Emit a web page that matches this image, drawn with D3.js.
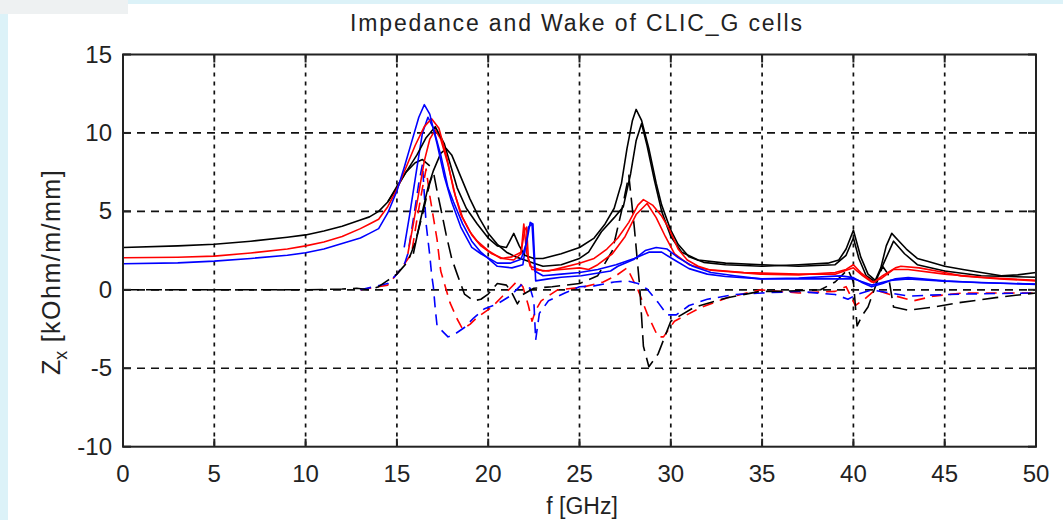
<!DOCTYPE html>
<html><head><meta charset="utf-8">
<script src="https://cdn.jsdelivr.net/npm/d3@7"></script>
<style>body{margin:0;background:#fff;}svg{display:block;}</style>
</head><body>
<svg id="chart" width="1063" height="520"></svg>
<script>
const title = "Impedance and Wake of CLIC_G cells";
const xTicks = [0,5,10,15,20,25,30,35,40,45,50];
const yTicks = [-10,-5,0,5,10,15];

// Solid curves (real part)
const blackSolidA = [[0,2.7],[3,2.8],[5,2.9],[7,3.1],[9,3.35],[10,3.5],[11,3.75],[12,4.05],[13,4.45],[13.5,4.65],[14,5.0],[14.5,5.6],[15,6.5],[15.5,7.5],[16.1,8.6],[16.6,9.7],[17.1,10.4],[17.6,9.3],[18.0,7.7],[18.3,6.5],[18.8,5.2],[19.4,4.2],[20,3.3],[20.5,2.8],[21.0,2.7],[21.4,3.6],[21.7,2.8],[22.0,2.2],[22.5,2.0],[23,2.0],[24,2.3],[25,2.7],[25.8,3.3],[26.4,4.2],[26.9,5.2],[27.3,6.8],[27.6,9.0],[27.9,10.8],[28.1,11.5],[28.4,10.8],[28.8,9.0],[29.2,6.8],[29.5,5.4],[30.0,3.8],[30.4,2.9],[31,2.1],[31.8,1.75],[33,1.6],[35,1.5],[37,1.6],[38.6,1.7],[39.2,1.9],[39.6,2.6],[40.0,3.8],[40.4,2.1],[40.8,1.0],[41.2,0.6],[41.5,1.4],[41.8,2.8],[42.1,3.6],[42.5,3.1],[42.9,2.6],[43.5,2.0],[44.1,1.8],[45,1.5],[46,1.3],[47,1.1],[48.1,0.9],[49,0.95],[50,1.1]];
const blackSolidB = [[15.9,2.3],[16.3,4.5],[16.7,6.5],[17.0,7.6],[17.4,8.7],[17.7,9.0],[18.0,8.6],[18.5,7.2],[19.0,5.8],[19.5,4.6],[20.0,3.6],[20.5,2.9],[21,2.4],[21.5,2.1],[22,1.9],[22.5,1.7],[23,1.5],[24,1.6],[25,2.0],[25.5,2.4],[26.2,3.7],[26.9,4.6],[27.4,5.3],[27.8,7.4],[28.1,9.5],[28.4,10.6],[28.7,9.2],[29.1,7.0],[29.5,5.0],[30,3.4],[30.6,2.4],[31.5,1.9],[33,1.7],[35,1.6],[37,1.5],[39,1.6],[39.6,2.2],[40.0,3.3],[40.3,2.0],[40.7,0.9],[41.2,0.5],[41.7,1.8],[42.2,3.1],[42.8,2.3],[43.5,1.6],[45,1.2],[47,0.9],[50,0.8]];
const blackSolidC = [[14.5,5.6],[15.0,6.6],[15.5,7.5],[16.0,8.1],[16.4,8.3],[16.8,7.9]];
const redSolidA = [[0,2.04],[3,2.08],[5,2.15],[7,2.35],[9,2.6],[10,2.8],[11,3.05],[12,3.4],[13,3.9],[13.5,4.2],[14,4.5],[14.5,5.3],[15,6.4],[15.5,7.8],[16,9.2],[16.5,10.4],[16.9,10.9],[17.3,10.3],[17.7,8.6],[18.1,6.4],[18.5,4.8],[19,3.7],[19.4,3.1],[20,2.5],[20.7,2.0],[21.3,2.1],[21.8,2.4],[22.0,3.8],[22.1,4.0],[22.2,2.0],[22.4,1.3],[23.3,1.2],[24,1.4],[25,1.7],[25.8,2.0],[26.5,2.6],[27.1,3.3],[27.7,4.3],[28.2,5.4],[28.5,5.75],[29.0,5.4],[29.5,4.7],[29.9,3.9],[30.4,2.6],[30.9,1.9],[31.5,1.5],[32.2,1.25],[34.9,1.0],[37,0.95],[39,1.1],[39.6,1.3],[40.0,1.6],[40.4,1.1],[41.1,0.46],[41.6,0.9],[42.3,1.4],[42.6,1.5],[43.6,1.4],[45,1.1],[45.9,0.89],[48,0.7],[50,0.57]];
const redSolidB = [[15.6,2.3],[15.9,4.2],[16.2,6.2],[16.5,8.2],[16.8,9.6],[17.1,10.2],[17.4,9.6],[17.8,8.0],[18.2,6.0],[18.6,4.6],[19.1,3.5],[19.6,2.8],[20.2,2.3],[20.8,2.0],[21.4,1.9],[21.8,2.3],[21.95,4.2],[22.1,2.4],[22.3,1.5],[23,1.2],[24,1.3],[25,1.4],[25.5,1.3],[26,1.6],[26.8,2.3],[27.5,3.4],[28.1,4.8],[28.7,5.5],[29.2,4.6],[29.7,3.4],[30.2,2.3],[31,1.6],[32,1.3],[34,1.1],[37,1.0],[39,1.0],[40,1.4],[40.5,0.9],[41,0.5],[41.5,0.7],[42.2,1.3],[43,1.3],[45,1.0],[47,0.8],[50,0.6]];
const blueSolidA = [[0,1.66],[3,1.72],[5,1.83],[7,2.0],[9,2.2],[10,2.36],[11,2.6],[12,2.95],[13,3.3],[13.5,3.6],[14,3.9],[14.5,4.9],[15,6.3],[15.4,7.8],[15.8,9.4],[16.2,11.0],[16.5,11.8],[16.8,11.2],[17.2,9.3],[17.6,7.2],[18.0,5.6],[18.5,4.0],[19.1,2.7],[19.6,2.3],[20.5,1.7],[21.2,1.7],[21.8,1.95],[22.1,3.0],[22.3,4.3],[22.45,4.2],[22.6,0.57],[23.3,0.7],[24,0.8],[25.1,0.9],[26.7,1.2],[27.1,1.5],[28.0,1.95],[28.6,2.5],[29.2,2.7],[29.8,2.6],[30.4,2.05],[31.2,1.5],[32.2,1.1],[33.5,0.9],[34.9,0.7],[37,0.75],[39.3,0.89],[40,0.78],[40.5,0.45],[41,0.19],[41.6,0.4],[42.3,0.7],[43,0.78],[45,0.57],[47,0.45],[50,0.36]];
const blueSolidB = [[15.4,2.7],[15.7,4.8],[16.1,7.8],[16.4,10.0],[16.7,11.0],[17.0,10.3],[17.4,8.6],[17.8,6.5],[18.1,5.6],[18.6,4.2],[19.1,3.1],[19.6,2.4],[20.5,1.5],[21.3,1.4],[21.9,1.6],[22.2,4.0],[22.4,4.2],[22.55,1.2],[23,0.9],[24,1.0],[25,1.1],[26,1.3],[27,1.6],[28,2.0],[28.8,2.4],[29.5,2.4],[30.2,1.9],[31,1.35],[32,1.0],[33,0.85],[35,0.7],[38,0.7],[40,0.7],[41,0.3],[42,0.6],[43,0.7],[45,0.55],[50,0.35]];

// Dashed curves (imaginary part)
const blackDashed = [[0,0],[5,0],[10,0],[12,0.05],[12.8,0.1],[13.5,0.0],[14.0,0.2],[14.5,0.6],[15.0,1.0],[15.3,1.4],[15.6,1.8],[16.0,3.0],[16.4,4.8],[16.8,6.8],[17.0,7.5],[17.2,6.3],[17.4,5.2],[17.7,3.5],[18.0,2.0],[18.3,1.0],[18.7,-0.27],[19.2,-0.7],[19.6,-0.6],[20.0,-0.27],[20.5,0.4],[21.0,0.3],[21.3,-0.2],[21.6,-0.9],[21.9,-0.3],[22.5,0.1],[23.5,0.2],[25,0.4],[26,0.9],[26.8,2.5],[27.3,5.0],[27.7,7.3],[28.0,4.0],[28.3,0.15],[28.5,-3.6],[28.8,-4.9],[29.3,-4.1],[30.0,-2.0],[31.3,-1.1],[33.1,-0.5],[34.9,-0.1],[36,-0.1],[38.2,0.0],[39.0,0.5],[39.7,1.3],[40.0,0.5],[40.2,-2.3],[40.5,-1.6],[40.8,-1.1],[41.2,0.2],[41.6,1.5],[41.9,1.0],[42.2,-1.1],[43,-1.3],[44.4,-1.1],[45.9,-0.8],[47.8,-0.5],[50,-0.2]];
const redDashed = [[13,0],[14.5,0.3],[15.2,1.3],[15.8,2.3],[16.1,4.5],[16.4,6.5],[16.6,7.7],[16.8,6.0],[17.0,4.6],[17.2,3.2],[17.4,1.2],[17.7,0],[17.9,-0.8],[18.3,-1.86],[18.6,-2.5],[19.0,-2.2],[19.4,-1.75],[20.2,-1.1],[20.9,-0.27],[21.6,0.57],[21.9,0.2],[22.2,-1.0],[22.4,-2.0],[22.6,-1.3],[22.9,-0.7],[23.8,0],[25.1,0.15],[26.3,0.5],[27.0,0.9],[27.6,1.4],[28.2,0],[28.7,-1.5],[29.3,-3.0],[29.6,-3.0],[30.2,-2.0],[31.7,-1.1],[33.1,-0.5],[34.9,0],[37,-0.2],[39,-0.1],[39.6,0.2],[40.1,-1.0],[40.6,-0.6],[41.2,0.0],[42,-0.3],[43.3,-0.7],[44.4,-0.4],[46,-0.2],[48,-0.2],[50,-0.2]];
const blueDashed = [[13,0],[14.5,0.4],[15.0,1.0],[15.4,1.6],[15.6,2.3],[15.9,4.5],[16.2,6.8],[16.4,8.0],[16.6,4.2],[16.8,2.2],[16.9,1.0],[17.0,0.15],[17.1,-1.2],[17.2,-2.3],[17.8,-3.0],[18.2,-2.8],[18.7,-2.4],[19.2,-1.8],[19.8,-1.2],[20.5,-0.9],[21.2,-0.4],[21.8,0.3],[22.3,0.1],[22.5,-0.7],[22.6,-3.2],[22.8,-1.5],[23.3,-0.7],[24.2,-0.2],[25,0.2],[25.8,0.25],[26.9,0.5],[27.6,0.57],[28.2,0.4],[28.7,0.05],[29.3,-0.8],[29.8,-1.6],[30.3,-1.6],[31,-1.0],[32,-0.6],[33.5,-0.3],[35,-0.2],[37,-0.1],[39,-0.3],[39.7,-0.6],[40.2,-0.3],[41,0.0],[42,-0.2],[43,-0.4],[45,-0.3],[47,-0.25],[50,-0.2]];

const svg = d3.select("#chart");
const L = 123, R = 1036, T = 54.5, B = 446.7;
const x = d3.scaleLinear().domain([0,50]).range([L,R]);
const y = d3.scaleLinear().domain([-10,15]).range([B,T]);
const font = "'Liberation Sans', Arial, sans-serif";

// frame decorations
svg.append("rect").attr("x",0).attr("y",0).attr("width",1063).attr("height",520).attr("fill","#ffffff");
svg.append("rect").attr("x",128).attr("y",0).attr("width",935).attr("height",4).attr("fill","#dcf2f8");
svg.append("rect").attr("x",0).attr("y",14).attr("width",8).attr("height",506).attr("fill","#dcf2f8");
svg.append("rect").attr("x",0).attr("y",0).attr("width",128).attr("height",14).attr("fill","#eef1f2");

// grid
const g = svg.append("g");
g.selectAll(".vg").data(xTicks.slice(1,-1)).join("line")
  .attr("x1",d=>x(d)).attr("x2",d=>x(d)).attr("y1",T).attr("y2",B)
  .attr("stroke","#111").attr("stroke-width",1.7).attr("stroke-dasharray","4,5");
g.selectAll(".hg").data(yTicks.slice(1,-1)).join("line")
  .attr("x1",L).attr("x2",R).attr("y1",d=>y(d)).attr("y2",d=>y(d))
  .attr("stroke","#111").attr("stroke-width",1.7).attr("stroke-dasharray","8,6");

// curves
svg.append("clipPath").attr("id","clip").append("rect").attr("x",L).attr("y",T).attr("width",R-L).attr("height",B-T);
const line = d3.line().x(d=>x(d[0])).y(d=>y(d[1]));
const cg = svg.append("g").attr("clip-path","url(#clip)");
const series = [
  {d:redDashed,c:"#ff0000",dash:"11,7"},
  {d:blueDashed,c:"#0000ff",dash:"11,7"},
  {d:blackDashed,c:"#000000",dash:"16,7"},
  {d:blackSolidB,c:"#000000"},
  {d:blackSolidC,c:"#000000"},
  {d:redSolidB,c:"#ff0000"},
  {d:blueSolidB,c:"#0000ff"},
  {d:blackSolidA,c:"#000000"},
  {d:redSolidA,c:"#ff0000"},
  {d:blueSolidA,c:"#0000ff"}
];
cg.selectAll("path").data(series).join("path")
  .attr("d",s=>line(s.d)).attr("fill","none").attr("stroke",s=>s.c)
  .attr("stroke-width",1.6).attr("stroke-dasharray",s=>s.dash||null)
  .attr("stroke-linejoin","round");

// axes box and ticks
const ax = svg.append("g");
ax.append("rect").attr("x",L).attr("y",T).attr("width",R-L).attr("height",B-T)
  .attr("fill","none").attr("stroke","#222").attr("stroke-width",2);
const tl = 8;
ax.selectAll(".xtb").data(xTicks).join("line").attr("x1",d=>x(d)).attr("x2",d=>x(d)).attr("y1",B).attr("y2",B-tl).attr("stroke","#222").attr("stroke-width",2);
ax.selectAll(".xtt").data(xTicks).join("line").attr("x1",d=>x(d)).attr("x2",d=>x(d)).attr("y1",T).attr("y2",T+tl).attr("stroke","#222").attr("stroke-width",2);
ax.selectAll(".ytl").data(yTicks).join("line").attr("y1",d=>y(d)).attr("y2",d=>y(d)).attr("x1",L).attr("x2",L+tl).attr("stroke","#222").attr("stroke-width",2);
ax.selectAll(".ytr").data(yTicks).join("line").attr("y1",d=>y(d)).attr("y2",d=>y(d)).attr("x1",R).attr("x2",R-tl).attr("stroke","#222").attr("stroke-width",2);

// tick labels
ax.selectAll(".xl").data(xTicks).join("text").attr("x",d=>x(d)).attr("y",482)
  .attr("text-anchor","middle").attr("font-family",font).attr("font-size",24).attr("fill","#222").text(d=>d);
ax.selectAll(".yl").data(yTicks).join("text").attr("x",112).attr("y",d=>y(d)+8)
  .attr("text-anchor","end").attr("font-family",font).attr("font-size",24).attr("fill","#222").text(d=>d);

// title and labels
svg.append("text").attr("x",576).attr("y",31).attr("text-anchor","middle")
  .attr("font-family",font).attr("font-size",23).attr("fill","#222")
  .attr("textLength",452).attr("lengthAdjust","spacing").text(title);
svg.append("text").attr("x",582).attr("y",514).attr("text-anchor","middle")
  .attr("font-family",font).attr("font-size",23).attr("fill","#222").text("f [GHz]");
const yl = svg.append("text").attr("transform","translate(60,272) rotate(-90)").attr("text-anchor","middle")
  .attr("font-family",font).attr("font-size",25).attr("fill","#222");
yl.append("tspan").text("Z");
yl.append("tspan").attr("font-size",18).attr("dy",7).text("x");
yl.append("tspan").attr("dy",-7).attr("letter-spacing",1.5).text(" [kOhm/m/mm]");
</script>
</body></html>
